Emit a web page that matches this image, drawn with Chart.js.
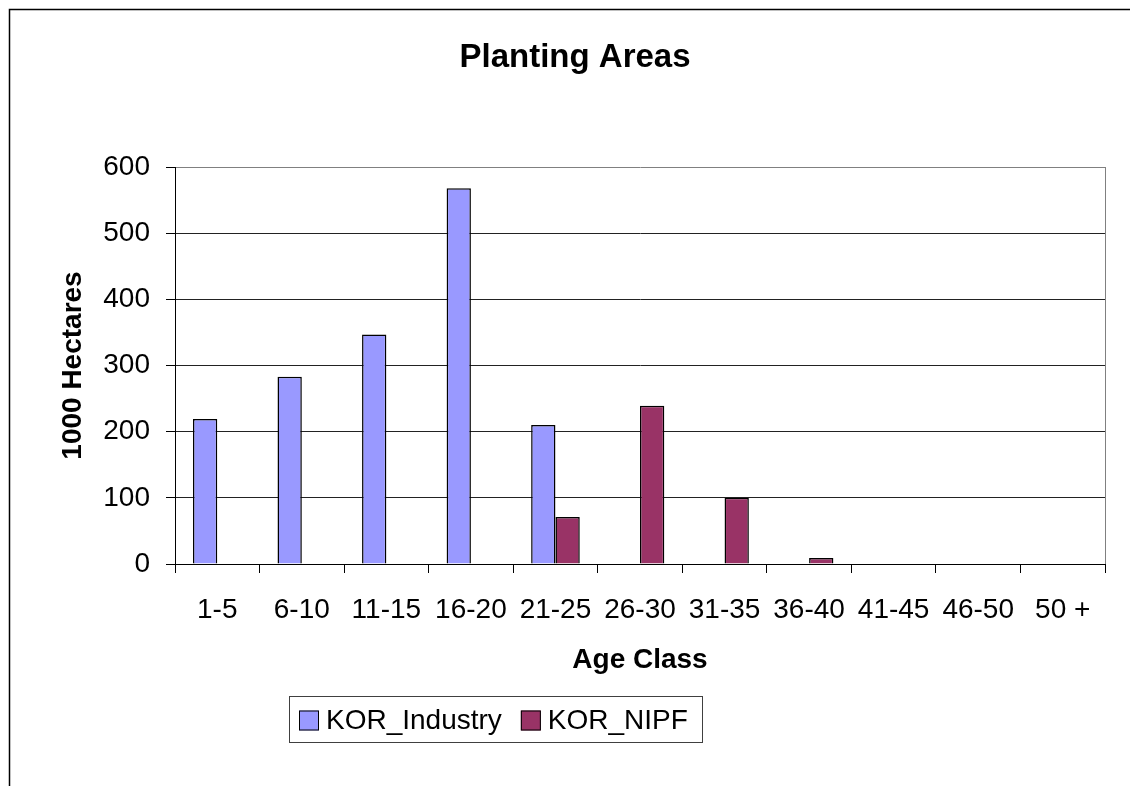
<!DOCTYPE html>
<html>
<head>
<meta charset="utf-8">
<script src="https://cdn.jsdelivr.net/npm/chart.js@4/dist/chart.umd.min.js"></script>
<style>
  html, body { margin: 0; padding: 0; background: #ffffff; }
  #wrap { width: 1130px; height: 786px; position: relative; }
</style>
</head>
<body>
<div id="wrap"><canvas id="c" width="1130" height="786"></canvas></div>
<script>
const categories = ['1-5', '6-10', '11-15', '16-20', '21-25', '26-30', '31-35', '36-40', '41-45', '46-50', '50 +'];
const industryValues = [219, 283, 347, 568, 210, null, null, null, null, null, null];
const nipfValues = [null, null, null, null, 71, 239, 100, 9, null, null, null];
const yTicks = [0, 100, 200, 300, 400, 500, 600];
const seriesNames = ['KOR_Industry', 'KOR_NIPF'];
const seriesColors = ['#9999FF', '#993366'];

const FONT = '"Liberation Sans", Arial, sans-serif';
Chart.defaults.color = '#000';
Chart.defaults.font.family = FONT;

const framePlugin = {
  id: 'frame',
  afterDraw(chart) {
    const ctx = chart.ctx;
    const a = chart.chartArea;
    ctx.save();
    // outer chart frame (clipped at right/bottom)
    ctx.strokeStyle = '#000';
    ctx.lineWidth = 1.5;
    ctx.beginPath();
    ctx.moveTo(9.5, 786);
    ctx.lineTo(9.5, 9.5);
    ctx.lineTo(1130, 9.5);
    ctx.stroke();
    // plot area right border
    ctx.strokeStyle = '#808080';
    ctx.lineWidth = 1;
    ctx.beginPath();
    ctx.moveTo(Math.round(a.right) + 0.5, a.top);
    ctx.lineTo(Math.round(a.right) + 0.5, a.bottom);
    ctx.stroke();
    // legend
    ctx.font = '28px ' + FONT;
    ctx.textBaseline = 'middle';
    ctx.textAlign = 'left';
    const boxL = 289.5, boxT = 696.5, boxB = 742.5;
    let x = 299;
    const cy = 720.5;
    chart.data.datasets.forEach((ds, i) => {
      ctx.fillStyle = ds.backgroundColor;
      ctx.fillRect(x, cy - 10, 20, 20);
      ctx.strokeStyle = '#000';
      ctx.lineWidth = 1;
      ctx.strokeRect(x + 0.5, cy - 9.5, 19, 19);
      ctx.fillStyle = '#000';
      ctx.fillText(ds.label, x + 27, cy + 1);
      x = x + 27 + ctx.measureText(ds.label).width + 19;
    });
    const boxR = x - 19 + 14 + 0.5;
    ctx.strokeStyle = '#404040';
    ctx.lineWidth = 1;
    ctx.strokeRect(boxL, boxT, Math.round(boxR - boxL), boxB - boxT);
    ctx.restore();
  }
};

new Chart(document.getElementById('c'), {
  type: 'bar',
  data: {
    labels: categories,
    datasets: [
      { label: seriesNames[0], data: industryValues, backgroundColor: seriesColors[0], borderColor: '#000', borderWidth: 1.5 },
      { label: seriesNames[1], data: nipfValues, backgroundColor: seriesColors[1], borderColor: '#000', borderWidth: 1.5 }
    ]
  },
  options: {
    responsive: false,
    animation: false,
    devicePixelRatio: 1,
    layout: { padding: { left: 45, right: 25, top: 0, bottom: 102 } },
    datasets: { bar: { categoryPercentage: 0.575, barPercentage: 1 } },
    plugins: {
      legend: { display: false },
      tooltip: { enabled: false },
      title: {
        display: true,
        text: 'Planting Areas',
        color: '#000',
        font: { size: 33, weight: 'bold', family: FONT },
        padding: { top: 38, bottom: 89.4 }
      }
    },
    scales: {
      x: {
        offset: true,
        grid: { offset: true, drawOnChartArea: false, drawTicks: true, tickLength: 9, tickColor: '#000', tickWidth: 1 },
        border: { display: true, color: '#000', width: 1 },
        ticks: { color: '#000', font: { size: 28, family: FONT }, padding: 20, maxRotation: 0, autoSkip: false },
        title: { display: true, text: 'Age Class', color: '#000', font: { size: 28, weight: 'bold', family: FONT }, padding: { top: 0, bottom: 7 } },
        afterFit(scale) { scale.height = 120; }
      },
      y: {
        min: 0,
        max: 600,
        afterBuildTicks(scale) { scale.ticks = yTicks.map(v => ({ value: v })); },
        grid: {
          drawTicks: true,
          tickLength: 9,
          tickColor: '#000',
          color: (c) => (c.tick && c.tick.value === 600 ? '#808080' : '#222'),
          lineWidth: 1
        },
        border: { display: true, color: '#000', width: 1 },
        ticks: { color: '#000', font: { size: 28, family: FONT }, padding: 16 },
        title: { display: true, text: '1000 Hectares', color: '#000', font: { size: 28, weight: 'bold', family: FONT }, padding: { top: 11, bottom: 0 } },
        afterFit(scale) { scale.width = 130; }
      }
    }
  },
  plugins: [framePlugin]
});
</script>
</body>
</html>
